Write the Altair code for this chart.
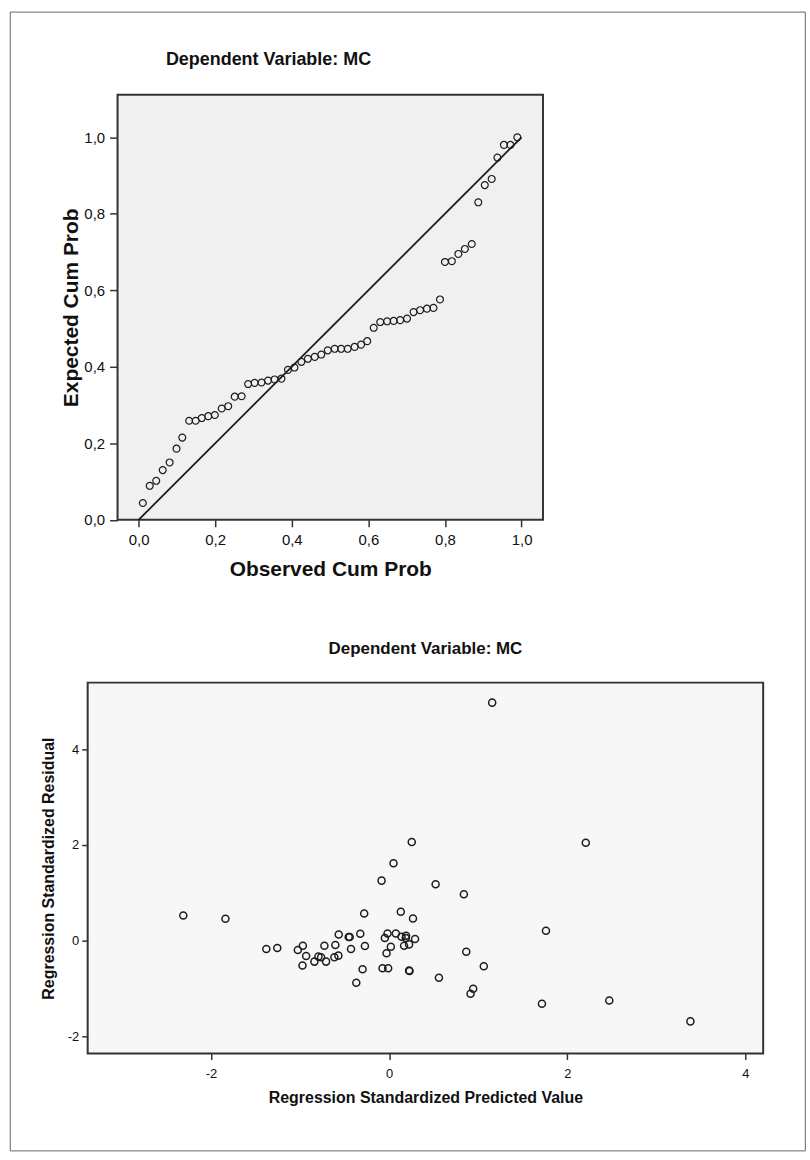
import altair as alt
import pandas as pd

# ---------------- data ----------------
# Normal P-P plot of regression standardized residual
pp_observed = [0.011, 0.029, 0.046, 0.063, 0.081, 0.099, 0.114, 0.132, 0.149, 0.165,
               0.182, 0.199, 0.217, 0.234, 0.251, 0.269, 0.286, 0.303, 0.321, 0.338,
               0.355, 0.373, 0.390, 0.407, 0.425, 0.442, 0.460, 0.477, 0.494, 0.512,
               0.529, 0.546, 0.564, 0.581, 0.597, 0.614, 0.631, 0.649, 0.666, 0.683,
               0.701, 0.718, 0.735, 0.753, 0.770, 0.787, 0.800, 0.818, 0.835, 0.852,
               0.870, 0.887, 0.904, 0.922, 0.937, 0.954, 0.971, 0.989]
pp_expected = [0.044, 0.089, 0.102, 0.130, 0.150, 0.186, 0.215, 0.259, 0.259, 0.266,
               0.271, 0.274, 0.291, 0.297, 0.322, 0.323, 0.355, 0.358, 0.359, 0.364,
               0.367, 0.369, 0.392, 0.398, 0.413, 0.421, 0.426, 0.432, 0.443, 0.447,
               0.447, 0.447, 0.452, 0.458, 0.467, 0.502, 0.517, 0.519, 0.520, 0.522,
               0.526, 0.543, 0.548, 0.552, 0.554, 0.576, 0.674, 0.676, 0.695, 0.708,
               0.721, 0.830, 0.875, 0.891, 0.947, 0.980, 0.980, 1.000]
diag_x = [0.0, 1.0]
diag_y = [0.0, 1.0]

# Scatterplot: standardized predicted value vs standardized residual
pred = [-2.311, -1.838, -1.379, -1.256, -1.025, -0.969, -0.932, -0.973, -0.839, -0.794,
        -0.764, -0.708, -0.727, -0.615, -0.570, -0.604, -0.566, -0.454, -0.443, -0.428,
        -0.324, -0.272, -0.298, -0.369, -0.280, -0.085, 0.049, -0.048, -0.018, 0.075,
        0.019, -0.029, -0.074, -0.011, 0.139, 0.187, 0.168, 0.224, 0.224, 0.229,
        0.291, 0.131, 0.268, 0.254, 1.157, 0.522, 0.839, 2.208, 1.761, 0.866,
        1.063, 0.559, 0.944, 0.914, 1.716, 2.472, 3.383, 0.190]
resid = [0.524, 0.456, -0.175, -0.154, -0.196, -0.106, -0.320, -0.522, -0.439, -0.335,
         -0.350, -0.439, -0.106, -0.350, -0.314, -0.092, 0.129, 0.075, 0.075, -0.175,
         0.144, -0.112, -0.599, -0.882, 0.566, 1.253, 1.615, 0.054, 0.150, 0.150,
         -0.127, -0.266, -0.579, -0.579, 0.081, 0.054, -0.106, -0.079, -0.626, -0.637,
         0.033, 0.601, 0.462, 2.058, 4.972, 1.178, 0.970, 2.044, 0.206, -0.231,
         -0.537, -0.778, -1.007, -1.111, -1.319, -1.251, -1.688, 0.102]

pp_ticks = [0.0, 0.2, 0.4, 0.6, 0.8, 1.0]
sc_ticks = [-2, 0, 2, 4]
pp_x_domain = [-0.055, 1.056]     # grey plot box of the P-P plot
pp_y_domain = [0.0, 1.111]
pp_x_view = [-0.133, 1.056]       # view extends 30px left of the box
sc_x_domain = [-3.385, 4.2]
sc_y_domain = [-2.36, 5.39]
title_text = "Dependent Variable: MC"

# ---------------- styling ----------------
FONT = "Liberation Sans"
INK = "#1c1c1c"
comma_expr = "replace(format(datum.value, '.1f'), '.', ',')"
plain_expr = "'' + datum.value"


def axis(title, values, expr, label_size, title_size, tick, lpad, tpad, **kw):
    return alt.Axis(
        title=title, values=values, labelExpr=expr, grid=False, domain=False,
        ticks=True, tickSize=tick, tickWidth=1.5, tickColor="#333333",
        labelFont=FONT, labelFontSize=label_size, labelColor="#111111",
        labelPadding=lpad, titleFont=FONT, titleFontSize=title_size,
        titleFontWeight="bold", titleColor="#111111", titlePadding=tpad,
        labelOverlap=False, **kw
    )


# ---------------- top: P-P plot ----------------
pp_df = pd.DataFrame({"obs": pp_observed, "exp": pp_expected})
diag_df = pd.DataFrame({"obs": diag_x, "exp": diag_y})
box_df = pd.DataFrame({"x0": [pp_x_domain[0]], "x1": [pp_x_domain[1]],
                       "y0": [pp_y_domain[0]], "y1": [pp_y_domain[1]]})

x_pp = alt.X("obs:Q", scale=alt.Scale(domain=pp_x_view, nice=False, zero=False),
             axis=axis("Observed Cum Prob", pp_ticks, comma_expr, 15, 21, 7, 6, 11,
                       titleX=243.5))
y_pp = alt.Y("exp:Q", scale=alt.Scale(domain=pp_y_domain, nice=False, zero=False),
             axis=axis("Expected Cum Prob", pp_ticks, comma_expr, 15, 21, 8, 5, 2,
                       offset=-30))

box = alt.Chart(box_df).mark_rect(
    fill="#F0F0F0", stroke="#333333", strokeWidth=2
).encode(x=alt.X("x0:Q", scale=alt.Scale(domain=pp_x_view, nice=False, zero=False)),
         x2="x1:Q",
         y=alt.Y("y0:Q", scale=alt.Scale(domain=pp_y_domain, nice=False, zero=False)),
         y2="y1:Q")
diag = alt.Chart(diag_df).mark_line(color=INK, strokeWidth=1.8).encode(x=x_pp, y=y_pp)
pp_pts = alt.Chart(pp_df).mark_point(
    shape="circle", filled=False, color=INK, size=48, strokeWidth=1.2, opacity=1
).encode(x="obs:Q", y="exp:Q")

top = alt.layer(box, diag, pp_pts).properties(
    width=457, height=426.6,
    title=alt.Title(title_text, font=FONT, fontSize=18, fontWeight="bold",
                    color="#111111", anchor="middle", dx=-47, offset=7,
                    baseline="bottom", frame="group"),
    view=alt.ViewBackground(fill="transparent", strokeOpacity=0),
)

# ---------------- bottom: scatterplot ----------------
sc_df = pd.DataFrame({"pred": pred, "resid": resid})
x_sc = alt.X("pred:Q", scale=alt.Scale(domain=sc_x_domain, nice=False, zero=False),
             axis=axis("Regression Standardized Predicted Value", sc_ticks, plain_expr,
                       13, 16, 6, 8, 9))
y_sc = alt.Y("resid:Q", scale=alt.Scale(domain=sc_y_domain, nice=False, zero=False),
             axis=axis("Regression Standardized Residual", sc_ticks, plain_expr,
                       13, 16, 6, 3, 11))

sc_pts = alt.Chart(sc_df).mark_point(
    shape="circle", filled=False, color=INK, size=50, strokeWidth=1.5, opacity=1
).encode(x=x_sc, y=y_sc)

# thin outer frame around the whole figure (decoration)
frame = alt.Chart(pd.DataFrame({"f": [0]})).mark_rect(
    fill="transparent", stroke="#666666", strokeWidth=1
).encode(x=alt.value(-77.7), x2=alt.value(720.3), y=alt.value(-673), y2=alt.value(470))

# the frame rises above this panel, so the title offset is measured from its top
bottom = alt.layer(sc_pts, frame).properties(
    width=678, height=372.3,
    title=alt.Title(title_text, font=FONT, fontSize=17, fontWeight="bold",
                    color="#111111", anchor="middle", offset=-665.5, baseline="bottom",
                    frame="group"),
    view=alt.ViewBackground(fill="#F7F7F7", stroke="#333333", strokeWidth=2),
)

chart = alt.vconcat(top, bottom, spacing=163, bounds="flush").properties(
    padding={"left": 8, "top": 8, "right": 3, "bottom": 8},
    background="white",
)

chart.save("out.html", embed_options={"renderer": "svg", "actions": False})
